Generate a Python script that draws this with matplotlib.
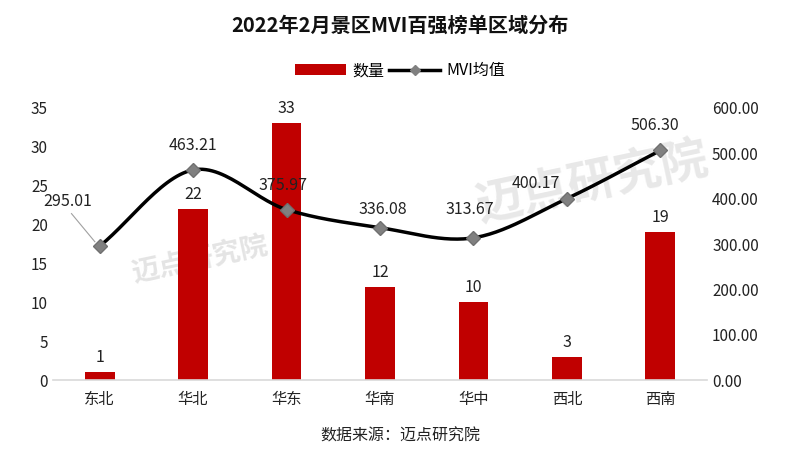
import numpy as np
import matplotlib.pyplot as plt

plt.rcParams['font.family'] = ['Noto Sans CJK SC', 'DejaVu Sans']

regions = ['东北', '华北', '华东', '华南', '华中', '西北', '西南']
counts = [1, 22, 33, 12, 10, 3, 19]
mvi = [295.01, 463.21, 375.97, 336.08, 313.67, 400.17, 506.30]


def smooth(x, y, n=30, t=0.5):
    # catmull-rom style curve through the points (like excel smoothed line)
    x = np.asarray(x, float)
    y = np.asarray(y, float)
    px = np.concatenate([[2 * x[0] - x[1]], x, [2 * x[-1] - x[-2]]])
    py = np.concatenate([[2 * y[0] - y[1]], y, [2 * y[-1] - y[-2]]])
    xs, ys = [], []
    s = np.linspace(0, 1, n)
    for i in range(1, len(px) - 2):
        p0, p1, p2, p3 = [np.array([px[j], py[j]]) for j in range(i - 1, i + 3)]
        m1 = t * (p2 - p0)
        m2 = t * (p3 - p1)
        h00 = 2 * s**3 - 3 * s**2 + 1
        h10 = s**3 - 2 * s**2 + s
        h01 = -2 * s**3 + 3 * s**2
        h11 = s**3 - s**2
        pts = (np.outer(h00, p1) + np.outer(h10, m1) + np.outer(h01, p2) + np.outer(h11, m2))
        xs.extend(pts[:, 0])
        ys.extend(pts[:, 1])
    return np.array(xs), np.array(ys)


fig = plt.figure(figsize=(8, 4.57), dpi=100)
ax = fig.add_axes([0.066, 0.168, 0.818, 0.596])
ax2 = ax.twinx()

# watermark, kept behind the marks
ax.text(0.74, 0.6, '迈点研究院', transform=fig.transFigure, fontsize=34, color='#d9d9d9',
        alpha=0.6, rotation=12, ha='center', va='center', fontweight='bold', zorder=0)
ax.text(0.25, 0.43, '迈点研究院', transform=fig.transFigure, fontsize=20, color='#d9d9d9',
        alpha=0.7, rotation=12, ha='center', va='center', fontweight='bold', zorder=0)

x = np.arange(len(regions))
bars = ax.bar(x, counts, width=0.32, color='#c00000', label='数量', zorder=2)
ax.set_ylim(0, 35)
ax.set_yticks(range(0, 36, 5))
ax.set_xlim(-0.5, len(regions) - 0.5)
ax.set_xticks(x)
ax.set_xticklabels(regions, fontsize=11)

for xi, c in zip(x, counts):
    ax.text(xi, c + 0.8, str(c), ha='center', va='bottom', fontsize=11.5, color='#222222')

sx, sy = smooth(x, mvi)
ax2.plot(sx, sy, color='black', lw=2.5, zorder=3)
ax2.plot(x, mvi, ls='none', marker='D', ms=7, color='#808080', mec='#707070', zorder=4)
line_handle = plt.Line2D([], [], color='black', lw=2.5, marker='D', ms=5,
                         mfc='#808080', mec='#808080', label='MVI均值')
ax2.set_ylim(0, 600)
ax2.set_yticks(range(0, 601, 100))
ax2.set_yticklabels([f'{v:.2f}' for v in range(0, 601, 100)])

# label offsets (in data units of the right axis)
offs = [(-0.34, 98), (0, 53), (-0.04, 53), (0.03, 40), (-0.04, 62), (-0.33, 33), (-0.06, 55)]
for xi, v, (dx, dy) in zip(x, mvi, offs):
    ax2.text(xi + dx, v + dy, f'{v:.2f}', ha='center', va='center', fontsize=11.5, color='#222222')
ax2.plot([x[0] - 0.3, x[0] - 0.05], [mvi[0] + 72, mvi[0] + 10], color='#a0a0a0', lw=0.8)

for a in (ax, ax2):
    for sp in a.spines.values():
        sp.set_visible(False)
    a.tick_params(length=0, labelsize=11, colors='#222222')
ax.spines['bottom'].set_visible(True)
ax.spines['bottom'].set_color('#d9d9d9')
ax.spines['bottom'].set_linewidth(1.2)
ax.tick_params(axis='x', pad=8)

fig.text(0.5, 0.945, '2022年2月景区MVI百强榜单区域分布', ha='center', va='center',
         fontsize=14.5, fontweight='bold', color='#111111')
fig.legend(handles=[bars, line_handle], loc='center', bbox_to_anchor=(0.5, 0.845),
           ncol=2, frameon=False, fontsize=11.5, handlelength=3.2, columnspacing=0.3,
           handletextpad=0.4)
fig.text(0.5, 0.045, '数据来源：迈点研究院', ha='center', va='center', fontsize=11.5,
         color='#222222')

fig.savefig('out.png', dpi=100)
